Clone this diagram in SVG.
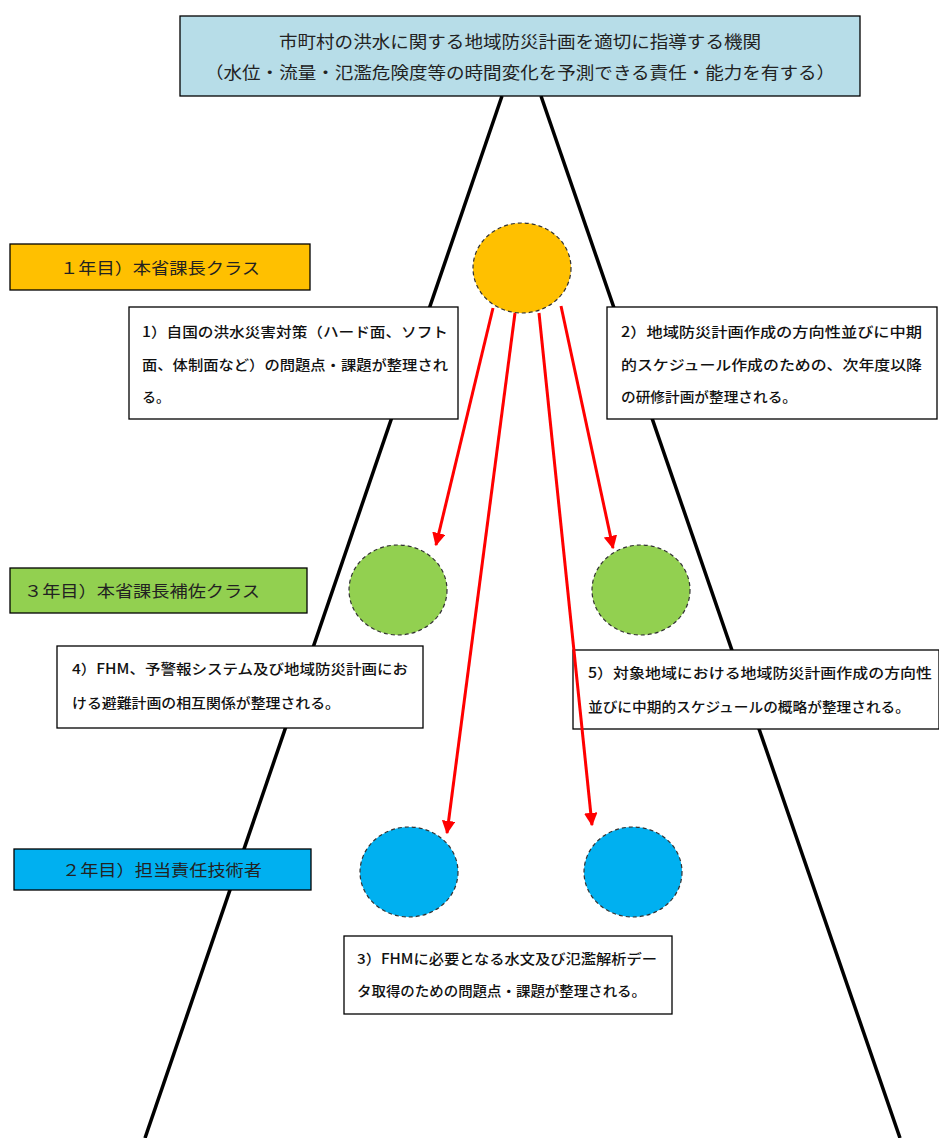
<svg xmlns="http://www.w3.org/2000/svg" width="939" height="1138" viewBox="0 0 939 1138">
<defs>
<style>
.frame{stroke:#000;stroke-width:1.3}
.lbl{font-family:"Liberation Serif","Noto Sans CJK JP",serif;font-size:16px;fill:#222}
.txt{font-family:"Noto Sans CJK JP","Noto Sans CJK SC",sans-serif;font-size:14px;fill:#111;font-weight:500}
.top{font-family:"Liberation Serif","Noto Sans CJK JP",serif;font-size:16.5px;fill:#222}
.dot{stroke:#333;stroke-width:1.2;stroke-dasharray:4 3}
.side{stroke:#000;stroke-width:3.5;fill:none}
.arr{stroke:#ff0000;stroke-width:3;fill:none;marker-end:url(#ah)}
</style>
<marker id="ah" viewBox="0 0 10 10" refX="9" refY="5" markerWidth="4.5" markerHeight="4.5" orient="auto" markerUnits="strokeWidth">
<path d="M0,0 L10,5 L0,10 Z" fill="#ff0000"/>
</marker>
</defs>
<rect width="939" height="1138" fill="#fff"/>
<g id="sides">
<line class="side" x1="502" y1="96" x2="145" y2="1138"/>
<line class="side" x1="541" y1="96" x2="900" y2="1138"/>
</g>
<g id="top-node">
<rect x="180" y="16" width="680" height="80" fill="#b7dde8" class="frame"/>
<text class="top" x="520" y="48" text-anchor="middle" textLength="482" lengthAdjust="spacingAndGlyphs">市町村の洪水に関する地域防災計画を適切に指導する機関</text>
<text class="top" x="520" y="79" text-anchor="middle" textLength="630" lengthAdjust="spacingAndGlyphs">（水位・流量・氾濫危険度等の時間変化を予測できる責任・能力を有する）</text>
</g>
<g id="label-year1">
<rect x="10" y="244" width="300" height="46" fill="#ffc000" class="frame"/>
<text class="lbl" x="60" y="274" textLength="200" lengthAdjust="spacingAndGlyphs">１年目）本省課長クラス</text>
</g>
<g id="label-year3">
<rect x="10" y="568" width="297" height="45" fill="#92d050" class="frame"/>
<text class="lbl" x="24" y="597" textLength="236" lengthAdjust="spacingAndGlyphs">３年目）本省課長補佐クラス</text>
</g>
<g id="label-year2">
<rect x="14" y="849" width="297" height="41" fill="#00b0f0" class="frame"/>
<text class="lbl" x="62" y="876" textLength="200" lengthAdjust="spacingAndGlyphs">２年目）担当責任技術者</text>
</g>
<g id="circle-orange"><ellipse cx="522" cy="268" rx="49" ry="45" fill="#ffc000" class="dot"/></g>
<g id="circle-green-left"><ellipse cx="398" cy="590" rx="49" ry="45" fill="#92d050" class="dot"/></g>
<g id="circle-green-right"><ellipse cx="641" cy="590" rx="49" ry="45" fill="#92d050" class="dot"/></g>
<g id="circle-blue-left"><ellipse cx="409" cy="872" rx="49" ry="45" fill="#00b0f0" class="dot"/></g>
<g id="circle-blue-right"><ellipse cx="633" cy="872" rx="49" ry="45" fill="#00b0f0" class="dot"/></g>
<g id="box1">
<rect x="129" y="307" width="329" height="112" fill="#fff" class="frame"/>
<text class="txt" x="142" y="337" textLength="306" lengthAdjust="spacingAndGlyphs">1）自国の洪水災害対策（ハード面、ソフト</text>
<text class="txt" x="142" y="370" textLength="306" lengthAdjust="spacingAndGlyphs">面、体制面など）の問題点・課題が整理され</text>
<text class="txt" x="142" y="402">る。</text>
</g>
<g id="box2">
<rect x="607" y="307" width="330" height="112" fill="#fff" class="frame"/>
<text class="txt" x="621" y="337" textLength="301" lengthAdjust="spacingAndGlyphs">2）地域防災計画作成の方向性並びに中期</text>
<text class="txt" x="621" y="370" textLength="301" lengthAdjust="spacingAndGlyphs">的スケジュール作成のための、次年度以降</text>
<text class="txt" x="621" y="402" textLength="176" lengthAdjust="spacingAndGlyphs">の研修計画が整理される。</text>
</g>
<g id="box4">
<rect x="57" y="646" width="366" height="82" fill="#fff" class="frame"/>
<text class="txt" x="72" y="674" textLength="336" lengthAdjust="spacingAndGlyphs">4）FHM、予警報システム及び地域防災計画にお</text>
<text class="txt" x="72" y="708" textLength="268" lengthAdjust="spacingAndGlyphs">ける避難計画の相互関係が整理される。</text>
</g>
<g id="box5">
<rect x="573" y="650" width="366" height="79" fill="#fff" class="frame"/>
<text class="txt" x="588" y="678" textLength="344" lengthAdjust="spacingAndGlyphs">5）対象地域における地域防災計画作成の方向性</text>
<text class="txt" x="588" y="712" textLength="322" lengthAdjust="spacingAndGlyphs">並びに中期的スケジュールの概略が整理される。</text>
</g>
<g id="box3">
<rect x="344" y="936" width="328" height="78" fill="#fff" class="frame"/>
<text class="txt" x="357" y="964" textLength="300" lengthAdjust="spacingAndGlyphs">3）FHMに必要となる水文及び氾濫解析デー</text>
<text class="txt" x="357" y="996" textLength="289" lengthAdjust="spacingAndGlyphs">タ取得のための問題点・課題が整理される。</text>
</g>
<g id="connectors">
<line class="arr" x1="493" y1="308" x2="436" y2="545"/>
<line class="arr" x1="515" y1="313" x2="447" y2="833"/>
<line class="arr" x1="539" y1="313" x2="592" y2="825"/>
<line class="arr" x1="561" y1="306" x2="613" y2="548"/>
</g>
</svg>
